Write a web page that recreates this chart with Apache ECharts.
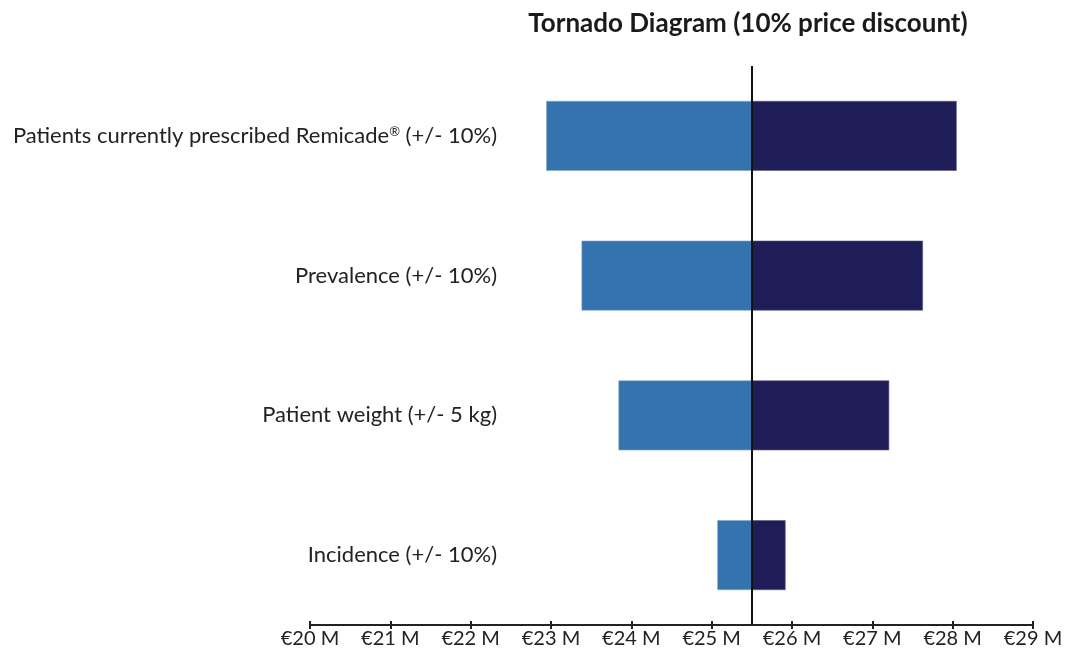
<!DOCTYPE html>
<html>
<head>
<meta charset="utf-8">
<script src="https://cdn.jsdelivr.net/npm/echarts@6/dist/echarts.min.js"></script>
<style>
  html, body { margin: 0; padding: 0; background: #fff; }
  #chart { width: 1065px; height: 649px; }
</style>
</head>
<body>
<div id="chart"></div>
<script>
// Tornado diagram: budget impact (in € millions) under +/- parameter changes
const categories = [
  'Patients currently prescribed Remicade® (+/- 10%)',
  'Prevalence (+/- 10%)',
  'Patient weight (+/- 5 kg)',
  'Incidence (+/- 10%)'
];
const baseCase = 25.5;
const lowValues = [22.94, 23.38, 23.84, 25.07];
const highValues = [28.05, 27.63, 27.21, 25.92];
const tickValues = [20, 21, 22, 23, 24, 25, 26, 27, 28, 29];

const font = 'Lato, "Open Sans", "Liberation Sans", sans-serif';

// Stacked segments: invisible offset up to the low value, then low→base, then base→high
const offset = lowValues.map(v => v);
const lowSpan = lowValues.map(v => +(baseCase - v).toFixed(4));
const highSpan = highValues.map(v => +(v - baseCase).toFixed(4));

const valueRange = {
  type: 'value',
  min: tickValues[0],
  max: tickValues[tickValues.length - 1],
  interval: 1,
  position: 'bottom',
  splitLine: { show: false }
};

const chart = echarts.init(document.getElementById('chart'), null, { renderer: 'canvas' });
chart.setOption({
  backgroundColor: '#ffffff',
  animation: false,
  title: {
    text: 'Tornado Diagram (10% price discount)',
    left: 743,
    top: 6,
    textAlign: 'center',
    textStyle: { fontFamily: font, fontSize: 26, fontWeight: 'bold', color: '#1a1a1a' }
  },
  grid: {
    left: 310, right: 32, top: 66, bottom: 24,
    containLabel: false,
    outerBoundsMode: 'none'
  },
  xAxis: [
    Object.assign({}, valueRange, {
      axisLine: { show: true, lineStyle: { color: '#222', width: 2 } },
      axisTick: { show: true, length: 4, lineStyle: { color: '#222', width: 2 } },
      axisLabel: {
        color: '#222',
        fontFamily: font,
        fontSize: 20,
        margin: 4,
        formatter: v => '€' + v + ' M'
      }
    }),
    // same scale again, only to draw the upper half of each tick mark
    Object.assign({}, valueRange, {
      axisLine: { show: false },
      axisTick: { show: true, inside: true, length: 4, lineStyle: { color: '#222', width: 2 } },
      axisLabel: { show: false }
    })
  ],
  yAxis: {
    type: 'category',
    data: categories,
    inverse: true,
    // category labels sit inside the plot's left part, ending near €22.3 M
    offset: -200,
    axisLine: { show: false },
    axisTick: { show: false },
    axisLabel: {
      color: '#222',
      fontFamily: font,
      fontSize: 22,
      margin: 13,
      formatter: v => {
        const i = v.indexOf('®');
        if (i < 0) return '{t|' + v + '}';
        return '{t|' + v.slice(0, i) + '}{sup|®}{t|' + v.slice(i + 1) + '}';
      },
      rich: {
        t: { fontFamily: font, fontSize: 22, color: '#222' },
        sup: { fontFamily: font, fontSize: 13, color: '#222', verticalAlign: 'top', padding: [0, 0, 9, 0] }
      }
    }
  },
  series: [
    {
      name: 'offset',
      type: 'bar',
      stack: 'range',
      data: offset,
      barWidth: '50%',
      itemStyle: { color: 'rgba(0,0,0,0)' },
      silent: true
    },
    {
      name: 'Low',
      type: 'bar',
      stack: 'range',
      data: lowSpan,
      barWidth: '50%',
      itemStyle: { color: '#3473ae', borderColor: '#7fa6cc', borderWidth: 0.6 }
    },
    {
      name: 'High',
      type: 'bar',
      stack: 'range',
      data: highSpan,
      barWidth: '50%',
      itemStyle: { color: '#1f1d57', borderColor: '#5c5b86', borderWidth: 0.6 },
      markLine: {
        silent: true,
        symbol: 'none',
        label: { show: false },
        lineStyle: { color: '#111', width: 2, type: 'solid' },
        data: [{ xAxis: baseCase }]
      },
      z: 3
    }
  ]
});
</script>
</body>
</html>
